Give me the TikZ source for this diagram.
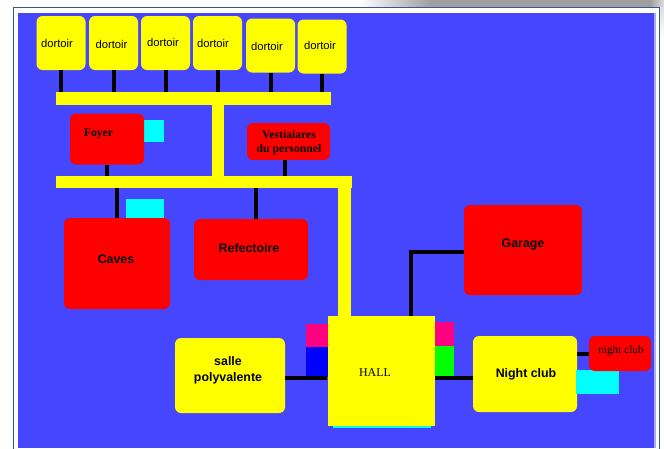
\documentclass[tikz,border=0pt]{standalone}
\usepackage{fontspec}
\setmainfont{Liberation Sans}
\newfontfamily\timesfont{Liberation Serif}
\usetikzlibrary{positioning}
\newlength\px
\setlength\px{0.025cm}
\definecolor{planblue}{RGB}{70,70,255}
\definecolor{framelin}{RGB}{47,90,150}
\definecolor{hotpink}{RGB}{255,0,128}
\definecolor{ryellow}{RGB}{255,255,0}
\definecolor{rcyan}{RGB}{0,255,255}
\definecolor{rred}{RGB}{255,0,0}
\definecolor{rgreen}{RGB}{0,255,0}
\definecolor{rblue}{RGB}{0,0,255}
\tikzset{
  room/.style={rectangle, rounded corners=6\px, inner sep=0pt, align=center},
  yroom/.style={room, fill=ryellow},
  rroom/.style={room, fill=rred},
  dort/.style={yroom, minimum width=49\px, minimum height=54\px},
  bar/.style={rectangle, fill=ryellow, inner sep=0pt},
  patch/.style={rectangle, inner sep=0pt},
  wire/.style={line width=4\px, black},
  lbl/.style={inner sep=0pt, align=center},
  dortlbl/.style={lbl, font=\fontsize{8pt}{10pt}\selectfont},
  sanslbl/.style={lbl, font=\fontsize{8.8pt}{11.4pt}\selectfont\bfseries},
  serblbl/.style={lbl, font=\fontsize{8.3pt}{10pt}\selectfont\timesfont\bfseries},
  serlbl/.style={lbl, font=\fontsize{8.5pt}{10pt}\selectfont\timesfont},
}
\begin{document}
\begin{tikzpicture}[x=0.025cm, y=-0.025cm]

  \useasboundingbox (0,0) rectangle (664,448);

  % page edge and frame
  \fill[white] (0,0) rectangle (664,448);
  \shade[left color=white, right color=gray!75, draw=none] (360,0) rectangle (430,7);
  \fill[gray!75] (430,0) rectangle (650,7);
  \shade[left color=gray!75, right color=gray!25, draw=none] (650,0) rectangle (664,7);
  \shade[top color=gray!25, bottom color=white, draw=none] (660,7) rectangle (664,40);
  \draw[framelin, line width=1\px] (13.5,449) |- (659.5,7.5) -- (659.5,449);
  \fill[planblue!45!white] (17.5,13) rectangle (655.5,448);
  \fill[planblue] (17.5,13) rectangle (654,448);

  % patches behind the rooms
  \node[patch, fill=rcyan, minimum width=21\px, minimum height=22\px] (pfoyer) at (153.5,131) {};
  \node[patch, fill=rcyan, minimum width=38\px, minimum height=19\px] (pcaves) at (145,208.5) {};
  \node[patch, fill=rcyan, minimum width=98\px, minimum height=4\px] (phall) at (382,425.5) {};
  \node[patch, fill=hotpink, minimum width=22\px, minimum height=23\px] (ppinkl) at (316.5,335.5) {};
  \node[patch, fill=rblue, minimum width=22\px, minimum height=30\px] (pbluel) at (316.5,362) {};
  \node[patch, fill=hotpink, minimum width=19\px, minimum height=24\px] (ppinkr) at (444.5,334) {};
  \node[patch, fill=rgreen, minimum width=19\px, minimum height=31\px] (pgreen) at (444.5,361.5) {};

  % corridors
  \node[bar, minimum width=275\px, minimum height=13\px] (bartop) at (193.5,98.5) {};
  \node[bar, minimum width=296\px, minimum height=12\px] (barmid) at (204,182) {};
  \node[bar, minimum width=12\px, minimum height=72\px] (barlink) at (218,140) {};
  \node[bar, minimum width=13\px, minimum height=130\px] (barhall) at (344.5,251) {};

  % dormitories
  \foreach \i/\x/\y/\tx/\ty in {1/61/43/57/43, 2/113.5/43/111.5/44, 3/165.5/43/163/42,
                                4/217.5/43/213/43, 5/270.5/45.5/267/46, 6/322/46.5/320/45} {
    \node[dort] (dort\i) at (\x,\y) {};
    \node[dortlbl] (dortlbl\i) at (\tx,\ty) {dortoir};
    \draw[wire] (dort\i.south) -- (dort\i.south |- bartop.north);
  }

  % rooms
  \node[rroom, minimum width=74\px, minimum height=51\px] (foyer) at (107,139) {};
  \node[serblbl] (foyerlbl) at (98.5,133.5) {Foyer};
  \node[rroom, minimum width=83\px, minimum height=37\px] (vest) at (288.5,141.5) {};
  \node[serblbl] (vestlbl) at (289,143) {Vestiaiares\\du personnel};
  \node[rroom, minimum width=106\px, minimum height=91\px] (caves) at (117,263.5) {};
  \node[sanslbl] (caveslbl) at (116,259.5) {Caves};
  \node[rroom, minimum width=114\px, minimum height=61\px] (refect) at (251,249.5) {};
  \node[sanslbl] (refectlbl) at (249,248.5) {Refectoire};
  \node[rroom, minimum width=118\px, minimum height=90\px] (garage) at (523,250) {};
  \node[sanslbl] (garagelbl) at (523,244.5) {Garage};
  \node[yroom, minimum width=110\px, minimum height=75\px] (salle) at (230,375.5) {};
  \node[sanslbl] (sallelbl) at (228,370) {salle\\polyvalente};
  \node[rectangle, fill=ryellow, inner sep=0pt, minimum width=107.5\px, minimum height=110\px] (hall) at (381.25,370.5) {};
  \node[serlbl] (halllbl) at (375,372.5) {HALL};
  \node[yroom, minimum width=104\px, minimum height=76\px] (nclub) at (525,374) {};
  \node[sanslbl] (nclublbl) at (526,374) {Night club};
  \node[patch, fill=rcyan, minimum width=43\px, minimum height=24\px] (pnclub) at (597.5,382) {};
  \node[rroom, minimum width=62\px, minimum height=35\px] (nbar) at (620,353.5) {};
  \node[serlbl, font=\fontsize{8pt}{10pt}\selectfont\timesfont] (nbarlbl) at (621,351) {night club};

  % links
  \coordinate (hallgar) at (411,315.5);
  \draw[wire] (foyer.south) -- (foyer.south |- barmid.north);
  \draw[wire] (vest.south -| 285,0) -- (285,176);
  \draw[wire] (caves.north) -- (caves.north |- barmid.south);
  \draw[wire] (refect.north -| 256,0) -- (256,188);
  \draw[wire] ([yshift=-2\px]garage.west) -| (hallgar);
  \draw[wire] ([yshift=-2.5\px]salle.east) -- ([yshift=-2.5\px]salle.east -| hall.west);
  \draw[wire] ([yshift=-4\px]hall.east |- nclub.west) -- ([yshift=-4\px]nclub.west);
  \draw[wire] (nclub.east |- nbar.west) -- (nbar.west);

\end{tikzpicture}
\end{document}
